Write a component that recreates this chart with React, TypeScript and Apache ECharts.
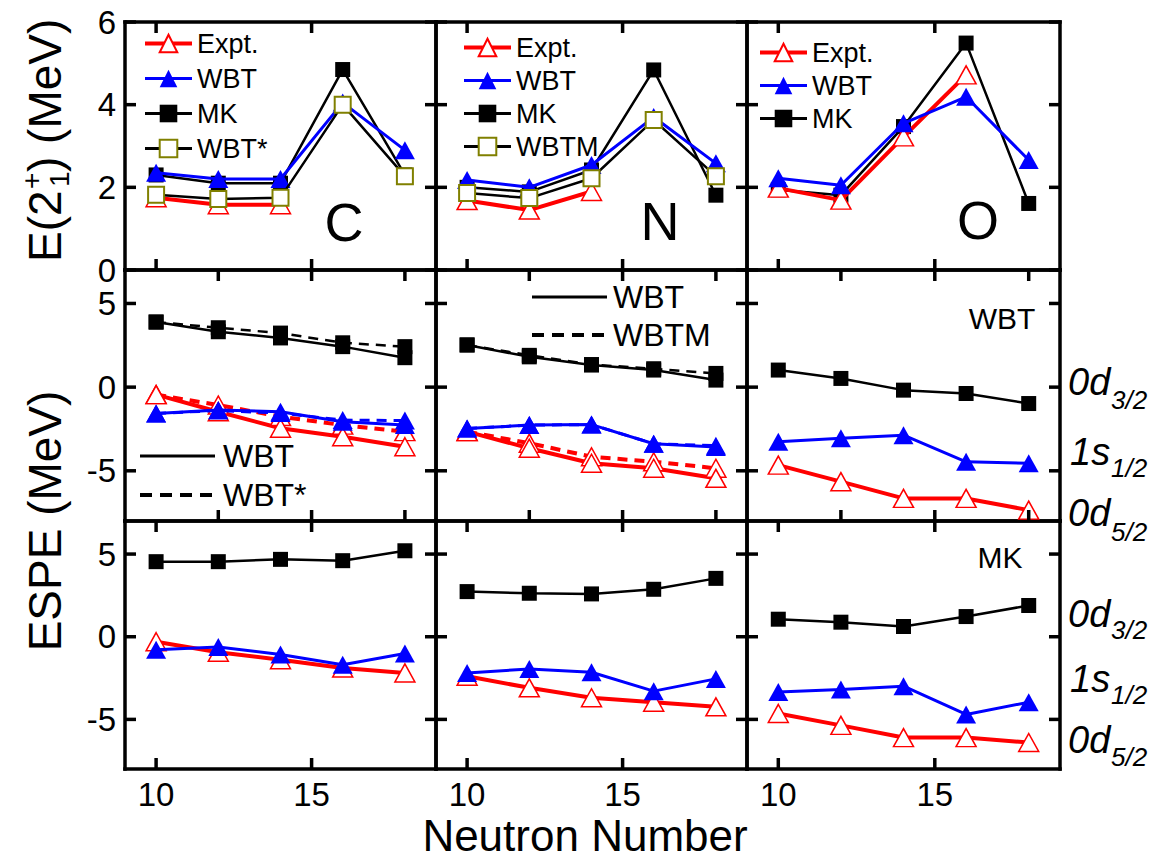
import React, { useEffect, useRef } from 'react';
import * as echarts from 'echarts';

const FONT = '"Liberation Sans", Arial, Helvetica, sans-serif';

const neutrons = [10, 12, 14, 16, 18];
const xTicksMain = [10, 15];
const xTicksMid = [12, 15, 18];
const e2Ticks = [0, 2, 4, 6];
const espeTicks = [-5, 0, 5];

// Top row: E(2+1) in MeV
const cExpt = [1.75, 1.58, 1.58, null, null];
const cWBT = [2.35, 2.2, 2.2, 4.05, 2.9];
const cMK = [2.3, 2.1, 2.1, 4.85, 2.3];
const cWBTstar = [1.82, 1.72, 1.75, 4.0, 2.27];

const nExpt = [1.68, 1.45, 1.9, null, null];
const nWBT = [2.18, 2.0, 2.54, 3.7, 2.58];
const nMK = [2.0, 1.89, 2.42, 4.84, 1.81];
const nWBTM = [1.86, 1.74, 2.22, 3.63, 2.27];

const oExpt = [1.98, 1.69, 3.22, 4.72, null];
const oWBT = [2.22, 2.05, 3.55, 4.19, 2.66];
const oMK = [1.94, 1.81, 3.47, 5.49, 1.61];

// Middle row: ESPE with WBT (solid) and WBT*/WBTM (dashed)
const cD32 = [3.89, 3.31, 2.94, 2.42, 1.76];
const cD32star = [3.89, 3.55, 3.23, 2.65, 2.42];
const cS12 = [-1.57, -1.37, -1.47, -2.07, -2.27];
const cS12star = [-1.57, -1.4, -1.55, -1.97, -2.0];
const cD52 = [-0.45, -1.47, -2.46, -2.96, -3.56];
const cD52star = [-0.45, -1.07, -1.76, -2.27, -2.66];

const nD32 = [2.52, 1.81, 1.32, 1.02, 0.42];
const nD32m = [2.52, 1.9, 1.35, 1.1, 0.82];
const nS12 = [-2.47, -2.27, -2.24, -3.38, -3.58];
const nS12m = [-2.47, -2.27, -2.24, -3.38, -3.5];
const nD52 = [-2.66, -3.65, -4.55, -4.85, -5.45];
const nD52m = [-2.66, -3.35, -4.16, -4.46, -4.85];

const oD32 = [1.02, 0.52, -0.18, -0.38, -0.98];
const oS12 = [-3.26, -3.06, -2.87, -4.46, -4.55];
const oD52 = [-4.66, -5.65, -6.65, -6.65, -7.35];

// Bottom row: ESPE with MK
const cMkD32 = [4.54, 4.54, 4.68, 4.6, 5.2];
const cMkS12 = [-0.78, -0.62, -1.08, -1.69, -1.02];
const cMkD52 = [-0.3, -0.94, -1.39, -1.89, -2.19];
const nMkD32 = [2.73, 2.63, 2.59, 2.87, 3.53];
const nMkS12 = [-2.19, -1.95, -2.15, -3.29, -2.55];
const nMkD52 = [-2.39, -3.09, -3.69, -3.96, -4.24];
const oMkD32 = [1.06, 0.88, 0.62, 1.22, 1.89];
const oMkS12 = [-3.35, -3.19, -2.99, -4.7, -3.96];
const oMkD52 = [-4.64, -5.36, -6.1, -6.1, -6.4];

const rowTop = [22, 270, 521];
const rowH = [248, 251, 248];
const colLeft = [125, 436, 747];
const colW = [311, 311, 313];
const TICK_LEN = 11;

type Kind = 'mk' | 'wbt' | 'expt' | 'star';

function pairs(vals: (number | null)[]) {
  const out: number[][] = [];
  vals.forEach((v, i) => {
    if (v !== null && v !== undefined) out.push([neutrons[i], v]);
  });
  return out;
}

function makeSeries(name: string, g: number, vals: (number | null)[], kind: Kind, dashed = false, z = 2) {
  const base: any = {
    type: 'line',
    name,
    xAxisIndex: 2 * g,
    yAxisIndex: 2 * g,
    data: pairs(vals),
    z,
    emphasis: { disabled: true },
    silent: true,
  };
  const dash = dashed ? [10, 7] : 'solid';
  if (kind === 'mk') {
    base.symbol = 'rect';
    base.symbolSize = 15;
    base.itemStyle = { color: '#000000' };
    base.lineStyle = { color: '#000000', width: 2.5, type: dash };
  } else if (kind === 'wbt') {
    base.symbol = 'triangle';
    base.symbolSize = [20, 18];
    base.itemStyle = { color: '#0000ff' };
    base.lineStyle = { color: '#0000ff', width: 3, type: dash };
  } else if (kind === 'expt') {
    base.symbol = 'triangle';
    base.symbolSize = [20, 18];
    base.itemStyle = { color: '#ffffff', borderColor: '#ff0000', borderWidth: 1.5 };
    base.lineStyle = { color: '#ff0000', width: 4, type: dash };
  } else {
    base.symbol = 'rect';
    base.symbolSize = 16;
    base.itemStyle = { color: '#ffffff', borderColor: '#808000', borderWidth: 2 };
    base.lineStyle = { color: '#000000', width: 2.5, type: dash };
  }
  return base;
}

function txt(text: string, x: number, y: number, size: number, align = 'left', italic = false) {
  return {
    type: 'text',
    x,
    y,
    silent: true,
    style: {
      text,
      font: `${italic ? 'italic ' : ''}${size}px ${FONT}`,
      fill: '#000',
      textAlign: align,
      align,
      textVerticalAlign: 'middle',
      verticalAlign: 'middle',
    },
  };
}

function seg(x1: number, y1: number, x2: number, y2: number, width: number, dash?: number[]) {
  return {
    type: 'line',
    silent: true,
    z: 50,
    shape: { x1, y1, x2, y2 },
    style: { stroke: '#000', lineWidth: width, lineDash: dash || null },
  };
}

function hline(x1: number, x2: number, y: number, width: number, dash?: number[]) {
  return seg(x1, y, x2, y, width, dash);
}

export default function App() {
  const ref = useRef<HTMLDivElement>(null);

  useEffect(() => {
    if (!ref.current) return;
    const chart = echarts.init(ref.current, undefined, { renderer: 'svg' });

    const grids: any[] = [];
    const xAxes: any[] = [];
    const yAxes: any[] = [];
    const tickSpecs: { g: number; r: number; c: number; xt: number[]; yt: number[]; yMin: number; yMax: number }[] = [];
    for (let g = 0; g < 9; g++) {
      const r = Math.floor(g / 3);
      const c = g % 3;
      grids.push({
        left: colLeft[c],
        top: rowTop[r],
        width: colW[c],
        height: rowH[r],
        show: false,
      });
      const xt = r === 1 ? xTicksMid : xTicksMain;
      const yt = r === 0 ? e2Ticks : espeTicks;
      const yMin = r === 0 ? 0 : -8;
      const yMax = r === 0 ? 6 : 7;
      tickSpecs.push({ g, r, c, xt, yt, yMin, yMax });
      ['bottom', 'top'].forEach((pos, k) => {
        xAxes.push({
          type: 'value',
          gridIndex: g,
          position: pos,
          min: 9,
          max: 19,
          axisLine: { show: true, onZero: false, lineStyle: { color: '#000', width: 3.5, cap: 'square' } },
          splitLine: { show: false },
          axisTick: { show: false },
          minorTick: { show: false },
          axisLabel: {
            show: r === 2 && k === 0,
            customValues: xTicksMain,
            fontSize: 33,
            fontFamily: FONT,
            color: '#000',
            margin: 9,
          },
        });
      });
      ['left', 'right'].forEach((pos, k) => {
        yAxes.push({
          type: 'value',
          gridIndex: g,
          position: pos,
          min: yMin,
          max: yMax,
          axisLine: { show: true, onZero: false, lineStyle: { color: '#000', width: 3.5, cap: 'square' } },
          splitLine: { show: false },
          axisTick: { show: false },
          minorTick: { show: false },
          axisLabel: {
            show: c === 0 && k === 0,
            customValues: yt,
            fontSize: 33,
            fontFamily: FONT,
            color: '#000',
            margin: 9,
          },
        });
      });
    }

    const series: any[] = [
      // C top
      makeSeries('MK', 0, cMK, 'mk'),
      makeSeries('Expt.', 0, cExpt, 'expt'),
      makeSeries('WBT', 0, cWBT, 'wbt', false, 3),
      makeSeries('WBT*', 0, cWBTstar, 'star', false, 4),
      // N top
      makeSeries('MK', 1, nMK, 'mk'),
      makeSeries('Expt.', 1, nExpt, 'expt'),
      makeSeries('WBT', 1, nWBT, 'wbt', false, 3),
      makeSeries('WBTM', 1, nWBTM, 'star', false, 4),
      // O top
      makeSeries('MK', 2, oMK, 'mk'),
      makeSeries('Expt.', 2, oExpt, 'expt', false, 3),
      makeSeries('WBT', 2, oWBT, 'wbt', false, 4),
      // C middle
      makeSeries('C WBT* d3/2', 3, cD32star, 'mk', true),
      makeSeries('C WBT d3/2', 3, cD32, 'mk'),
      makeSeries('C WBT* d5/2', 3, cD52star, 'expt', true),
      makeSeries('C WBT d5/2', 3, cD52, 'expt'),
      makeSeries('C WBT* s1/2', 3, cS12star, 'wbt', true, 3),
      makeSeries('C WBT s1/2', 3, cS12, 'wbt', false, 3),
      // N middle
      makeSeries('N WBTM d3/2', 4, nD32m, 'mk', true),
      makeSeries('N WBT d3/2', 4, nD32, 'mk'),
      makeSeries('N WBTM d5/2', 4, nD52m, 'expt', true),
      makeSeries('N WBT d5/2', 4, nD52, 'expt'),
      makeSeries('N WBTM s1/2', 4, nS12m, 'wbt', true, 3),
      makeSeries('N WBT s1/2', 4, nS12, 'wbt', false, 3),
      // O middle
      makeSeries('O WBT d3/2', 5, oD32, 'mk'),
      makeSeries('O WBT s1/2', 5, oS12, 'wbt'),
      makeSeries('O WBT d5/2', 5, oD52, 'expt'),
      // bottom
      makeSeries('C MK d3/2', 6, cMkD32, 'mk'),
      makeSeries('C MK d5/2', 6, cMkD52, 'expt'),
      makeSeries('C MK s1/2', 6, cMkS12, 'wbt', false, 3),
      makeSeries('N MK d3/2', 7, nMkD32, 'mk'),
      makeSeries('N MK d5/2', 7, nMkD52, 'expt'),
      makeSeries('N MK s1/2', 7, nMkS12, 'wbt', false, 3),
      makeSeries('O MK d3/2', 8, oMkD32, 'mk'),
      makeSeries('O MK s1/2', 8, oMkS12, 'wbt'),
      makeSeries('O MK d5/2', 8, oMkD52, 'expt'),
    ];

    const legendBase = {
      orient: 'vertical',
      itemWidth: 47,
      itemHeight: 22,
      selectedMode: false,
      padding: 0,
      textStyle: { fontSize: 27, fontFamily: FONT, color: '#000', lineHeight: 27 },
    };
    const lw = (name: string, w: number) => ({ name, lineStyle: { width: w } });
    const legends = [
      { ...legendBase, left: 143, top: 30, itemGap: 8, data: [lw('Expt.', 4), lw('WBT', 3), lw('MK', 3), lw('WBT*', 3)] },
      { ...legendBase, left: 462, top: 34, itemGap: 6, data: [lw('Expt.', 4), lw('WBT', 3), lw('MK', 3), lw('WBTM', 3)] },
      { ...legendBase, left: 758, top: 39, itemGap: 6, data: [lw('Expt.', 4), lw('WBT', 3), lw('MK', 3)] },
    ];

    const graphic: any[] = [
      {
        type: 'group',
        x: 45,
        y: 142,
        rotation: Math.PI / 2,
        children: [
          txt('E(2', -120, 0, 46),
          txt('+', -47, -14, 28),
          txt('1', -45, 14, 28),
          txt(') (MeV)', -30, 0, 46),
        ],
      },
      {
        type: 'group',
        x: 45,
        y: 521,
        rotation: Math.PI / 2,
        children: [txt('ESPE (MeV)', 0, 0, 46, 'center')],
      },
      txt('Neutron Number', 585, 835, 44, 'center'),
      txt('C', 344, 222, 54, 'center'),
      txt('N', 660, 221, 54, 'center'),
      txt('O', 978, 220, 54, 'center'),
      // middle-row line legends
      hline(140, 215, 456, 3),
      txt('WBT', 223, 456, 32),
      hline(140, 215, 495, 4, [12, 8]),
      txt('WBT*', 223, 495, 32),
      hline(532, 607, 297, 3),
      txt('WBT', 613, 297, 32),
      hline(532, 607, 335, 4, [12, 8]),
      txt('WBTM', 613, 335, 32),
      txt('WBT', 1002, 318, 30, 'center'),
      txt('MK', 1000, 557, 30, 'center'),
      // orbital labels, middle row
      txt('0d', 1068, 382, 38, 'left', true),
      txt('3/2', 1111, 400, 26, 'left', true),
      txt('1s', 1070, 452, 38, 'left', true),
      txt('1/2', 1111, 468, 26, 'left', true),
      txt('0d', 1068, 513, 38, 'left', true),
      txt('5/2', 1111, 532, 26, 'left', true),
      // orbital labels, bottom row
      txt('0d', 1068, 614, 38, 'left', true),
      txt('3/2', 1111, 630, 26, 'left', true),
      txt('1s', 1070, 679, 38, 'left', true),
      txt('1/2', 1111, 695, 26, 'left', true),
      txt('0d', 1068, 740, 38, 'left', true),
      txt('5/2', 1111, 757, 26, 'left', true),
    ];

    chart.setOption({
      animation: false,
      backgroundColor: '#ffffff',
      grid: grids,
      xAxis: xAxes,
      yAxis: yAxes,
      legend: legends,
      series,
      graphic,
    });

    // Inward ticks on all four sides, positioned with the axes' own value-to-pixel conversion.
    const ticks: any[] = [];
    tickSpecs.forEach(({ g, r, c, xt, yt, yMin, yMax }) => {
      const toX = (v: number) => {
        let p: any = null;
        try { p = chart.convertToPixel({ xAxisIndex: 2 * g } as any, v); } catch (e) { p = null; }
        return Number.isFinite(p) ? (p as number) : colLeft[c] + ((v - 9) / 10) * colW[c];
      };
      const toY = (v: number) => {
        let p: any = null;
        try { p = chart.convertToPixel({ yAxisIndex: 2 * g } as any, v); } catch (e) { p = null; }
        return Number.isFinite(p) ? (p as number) : rowTop[r] + ((yMax - v) / (yMax - yMin)) * rowH[r];
      };
      const left = toX(9);
      const right = toX(19);
      const bottom = toY(yMin);
      const top = toY(yMax);
      xt.forEach((v) => {
        const x = toX(v);
        ticks.push(seg(x, bottom, x, bottom - TICK_LEN, 3.5));
        ticks.push(seg(x, top, x, top + TICK_LEN, 3.5));
      });
      yt.forEach((v) => {
        const y = toY(v);
        ticks.push(seg(left, y, left + TICK_LEN, y, 3.5));
        ticks.push(seg(right, y, right - TICK_LEN, y, 3.5));
      });
    });
    chart.setOption({ graphic: [...graphic, ...ticks] });

    return () => {
      chart.dispose();
    };
  }, []);

  return (
    <div
      ref={ref}
      style={{ position: 'fixed', left: 0, top: 0, width: 1167, height: 858, background: '#fff' }}
    />
  );
}
